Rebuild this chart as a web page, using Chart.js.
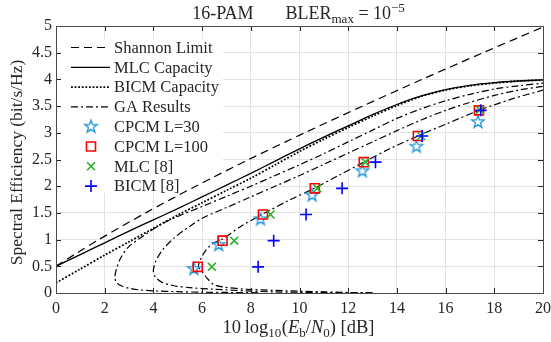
<!DOCTYPE html>
<html>
<head>
<meta charset="utf-8">
<script src="https://cdn.jsdelivr.net/npm/chart.js@4.4.1/dist/chart.umd.min.js"></script>
<style>
html, body { margin: 0; padding: 0; background: #fff; }
#myChart { display: block; }
</style>
</head>
<body>
<canvas id="myChart" width="551" height="342"></canvas>
<script>
"use strict";

// --- values ---
const shannonX = [0, 0.86, 1.76, 3.68, 5.74, 7.92, 10.21, 12.59, 15.03, 17.54, 20];
const shannonY = [0.5, 0.75, 1.0, 1.5, 2.0, 2.5, 3.0, 3.5, 4.0, 4.5, 4.98];

const capX = [0, 1, 2, 3, 4, 5, 6, 7, 8, 9, 10, 11, 12, 13, 14, 15, 16, 17, 18, 19, 20];
const mlcCapY = [0.5, 0.72, 0.94, 1.16, 1.37, 1.58, 1.8, 2.02, 2.24, 2.47, 2.7, 2.92, 3.13, 3.34, 3.53, 3.69, 3.81, 3.89, 3.94, 3.97, 3.99];
const bicmCapY = [0.19, 0.45, 0.71, 0.96, 1.21, 1.46, 1.69, 1.92, 2.15, 2.4, 2.65, 2.88, 3.1, 3.31, 3.51, 3.68, 3.8, 3.88, 3.93, 3.97, 3.99];

// GA results: three curves, each folds back at low rate
const ga1X = [8.3, 7, 6, 5, 4, 3.4, 3.0, 2.7, 2.5, 2.42, 2.48, 2.65, 2.95, 3.55, 4.5, 6, 7, 8, 9, 10, 11, 12, 13, 14, 15, 16, 17, 18, 19, 20];
const ga1Y = [0.005, 0.01, 0.015, 0.025, 0.04, 0.06, 0.09, 0.13, 0.19, 0.28, 0.45, 0.65, 0.85, 1.06, 1.33, 1.62, 1.81, 2.0, 2.2, 2.4, 2.61, 2.83, 3.05, 3.27, 3.45, 3.6, 3.72, 3.82, 3.88, 3.93];

const ga2X = [13, 11, 9, 7.8, 6.5, 5.5, 4.8, 4.35, 4.08, 4.0, 4.1, 4.4, 4.9, 5.5, 6, 7, 8, 9, 10, 11, 12, 13, 14, 15, 16, 17, 18, 19, 20];
const ga2Y = [0.005, 0.01, 0.02, 0.04, 0.07, 0.1, 0.14, 0.2, 0.3, 0.42, 0.6, 0.82, 1.05, 1.25, 1.4, 1.6, 1.8, 2.0, 2.2, 2.41, 2.62, 2.83, 3.04, 3.24, 3.42, 3.57, 3.7, 3.8, 3.87];

const ga3X = [13, 11, 9.5, 7.85, 6.9, 6.48, 6.2, 6.0, 5.85, 5.95, 6.15, 6.45, 6.84, 7.6, 8.5, 9.5, 10.6, 11.6, 12.64, 13.7, 14.86, 16.1, 17.37, 18.7, 20];
const ga3Y = [0.0, 0.02, 0.04, 0.07, 0.11, 0.16, 0.28, 0.4, 0.5, 0.64, 0.8, 0.93, 1.01, 1.25, 1.48, 1.72, 1.96, 2.2, 2.45, 2.7, 2.94, 3.18, 3.42, 3.63, 3.8];

const cpcm30X = [5.66, 6.68, 8.4, 10.52, 12.58, 14.8, 17.33];
const cpcm30Y = [0.45, 0.9, 1.38, 1.83, 2.28, 2.74, 3.2];
const cpcm100X = [5.82, 6.84, 8.5, 10.63, 12.64, 14.86, 17.37];
const cpcm100Y = [0.49, 0.98, 1.47, 1.96, 2.45, 2.94, 3.42];
const mlc8X = [6.4, 7.32, 8.81, 10.73, 12.71, 15.0, 17.41];
const mlc8Y = [0.49, 0.98, 1.47, 1.96, 2.45, 2.94, 3.43];
const bicm8X = [8.3, 8.94, 10.27, 11.75, 13.12, 15.04, 17.44];
const bicm8Y = [0.49, 0.98, 1.47, 1.96, 2.45, 2.94, 3.42];

const xTicks = [0, 2, 4, 6, 8, 10, 12, 14, 16, 18, 20];
const yTicks = [0, 0.5, 1, 1.5, 2, 2.5, 3, 3.5, 4, 4.5, 5];

// --- styling ---
const serif = '"Liberation Serif", "Times New Roman", serif';
const ink = '#262626';
const starBlue = '#1f97d8';
const sqRed = '#ff0000';
const xGreen = '#22b022';
const plusBlue = '#0000ff';

const dashShannon = [8, 5];
const dashDot = [7, 3, 2, 3];
const dotted = [1.8, 1.8];

const toPts = (xs, ys) => xs.map((x, i) => ({ x: x, y: ys[i] }));

// pentagram marker (Chart.js 'star' is an asterisk)
function makeStar(r, color) {
    const c = document.createElement('canvas');
    const s = Math.ceil(r * 2 + 4);
    c.width = s; c.height = s;
    const g = c.getContext('2d');
    g.strokeStyle = color;
    g.lineWidth = 1.3;
    g.lineJoin = 'miter';
    g.beginPath();
    for (let i = 0; i < 10; i++) {
        const rad = (i % 2 === 0) ? r : r * 0.4;
        const a = -Math.PI / 2 + i * Math.PI / 5;
        const px = s / 2 + rad * Math.cos(a), py = s / 2 + rad * Math.sin(a);
        if (i === 0) g.moveTo(px, py); else g.lineTo(px, py);
    }
    g.closePath();
    g.stroke();
    return c;
}
const starImg = makeStar(6.6, starBlue);

function lineSet(label, xs, ys, dash, width, order) {
    return {
        label: label, data: toPts(xs, ys), showLine: true,
        borderColor: '#000', backgroundColor: '#000', borderWidth: width, borderDash: dash,
        pointRadius: 0, pointHoverRadius: 0, fill: false, tension: 0.3, order: order
    };
}

const markerSets = [
    { label: 'CPCM L=30', data: toPts(cpcm30X, cpcm30Y), pointStyle: starImg, pointRadius: 7,
      borderColor: starBlue, backgroundColor: 'rgba(0,0,0,0)', showLine: false, order: 4 },
    { label: 'CPCM L=100', data: toPts(cpcm100X, cpcm100Y), pointStyle: 'rect', pointRadius: 6.4,
      borderColor: sqRed, backgroundColor: 'rgba(0,0,0,0)', pointBorderWidth: 1.6, showLine: false, order: 3 },
    { label: 'MLC [8]', data: toPts(mlc8X, mlc8Y), pointStyle: 'crossRot', pointRadius: 5.6,
      borderColor: xGreen, backgroundColor: xGreen, pointBorderWidth: 1.5, showLine: false, order: 2 },
    { label: 'BICM [8]', data: toPts(bicm8X, bicm8Y), pointStyle: 'cross', pointRadius: 6,
      borderColor: plusBlue, backgroundColor: plusBlue, pointBorderWidth: 1.6, showLine: false, order: 1 }
];

const datasets = [
    lineSet('Shannon Limit', shannonX, shannonY, dashShannon, 1.2, 10),
    lineSet('MLC Capacity', capX, mlcCapY, [], 1.3, 9),
    lineSet('BICM Capacity', capX, bicmCapY, dotted, 1.8, 8),
    lineSet('GA Results', ga1X, ga1Y, dashDot, 1.2, 7),
    lineSet('GA Results', ga2X, ga2Y, dashDot, 1.2, 6),
    lineSet('GA Results', ga3X, ga3Y, dashDot, 1.2, 5)
].concat(markerSets);

// legend layout (inside the axes, white background)
const legendBox = { x: 57, y: 39, w: 166, h: 154 };
const legendItems = [
    { text: 'Shannon Limit', kind: 'line', dash: dashShannon, width: 1.2 },
    { text: 'MLC Capacity', kind: 'line', dash: [], width: 1.3 },
    { text: 'BICM Capacity', kind: 'line', dash: dotted, width: 1.8 },
    { text: 'GA Results', kind: 'line', dash: dashDot, width: 1.2 },
    { text: 'CPCM L=30', kind: 'mark', ds: markerSets[0] },
    { text: 'CPCM L=100', kind: 'mark', ds: markerSets[1] },
    { text: 'MLC [8]', kind: 'mark', ds: markerSets[2] },
    { text: 'BICM [8]', kind: 'mark', ds: markerSets[3] }
];

function drawRich(ctx, parts, cx, baseY) {
    let total = 0;
    parts.forEach(p => {
        ctx.font = (p.italic ? 'italic ' : '') + p.size + 'px ' + serif;
        p.w = ctx.measureText(p.t).width;
        total += p.w + (p.gap || 0);
    });
    let x = cx - total / 2;
    ctx.textAlign = 'left';
    ctx.textBaseline = 'alphabetic';
    parts.forEach(p => {
        ctx.font = (p.italic ? 'italic ' : '') + p.size + 'px ' + serif;
        ctx.fillText(p.t, x, baseY + (p.dy || 0));
        x += p.w + (p.gap || 0);
    });
}

const framePlugin = {
    id: 'frame',
    beforeDatasetsDraw(chart) {
        const ctx = chart.ctx;
        ctx.save();
        ctx.fillStyle = '#fff';
        ctx.fillRect(legendBox.x, legendBox.y, legendBox.w, legendBox.h);
        ctx.restore();
    },
    afterDatasetsDraw(chart) {
        const ctx = chart.ctx, a = chart.chartArea;
        const sx = chart.scales.x, sy = chart.scales.y;
        const tl = 5;
        ctx.save();
        ctx.strokeStyle = ink;
        ctx.lineWidth = 1;
        ctx.setLineDash([]);
        ctx.beginPath();
        xTicks.forEach(v => {
            const px = Math.round(sx.getPixelForValue(v)) + 0.5;
            ctx.moveTo(px, a.bottom); ctx.lineTo(px, a.bottom - tl);
            ctx.moveTo(px, a.top); ctx.lineTo(px, a.top + tl);
        });
        yTicks.forEach(v => {
            const py = Math.round(sy.getPixelForValue(v)) + 0.5;
            ctx.moveTo(a.left, py); ctx.lineTo(a.left + tl, py);
            ctx.moveTo(a.right, py); ctx.lineTo(a.right - tl, py);
        });
        ctx.stroke();
        ctx.strokeStyle = '#4a4a4a';
        ctx.strokeRect(Math.round(a.left) + 0.5, Math.round(a.top) + 0.5,
            Math.round(a.right - a.left), Math.round(a.bottom - a.top));
        ctx.restore();
    },
    afterDraw(chart) {
        const ctx = chart.ctx, a = chart.chartArea;
        ctx.save();
        ctx.fillStyle = ink;

        // legend
        const x0 = 71, x1 = 110, tx = 114;
        legendItems.forEach((it, i) => {
            const y = 47.5 + i * 19.8;
            if (it.kind === 'line') {
                ctx.strokeStyle = '#000';
                ctx.lineWidth = it.width;
                ctx.setLineDash(it.dash);
                ctx.beginPath();
                ctx.moveTo(x0, y); ctx.lineTo(x1, y);
                ctx.stroke();
                ctx.setLineDash([]);
            } else {
                const ds = it.ds;
                ctx.strokeStyle = ds.borderColor;
                ctx.fillStyle = ds.backgroundColor;
                ctx.lineWidth = ds.pointBorderWidth || 1.3;
                Chart.helpers.drawPoint(ctx, { pointStyle: ds.pointStyle, radius: ds.pointRadius, rotation: 0, borderWidth: ctx.lineWidth }, 91, y);
            }
            ctx.fillStyle = ink;
            ctx.font = '16.5px ' + serif;
            ctx.textAlign = 'left';
            ctx.textBaseline = 'middle';
            ctx.fillText(it.text, tx, y + 1);
        });

        // title
        ctx.fillStyle = ink;
        drawRich(ctx, [
            { t: '16-PAM', size: 18, gap: 32 },
            { t: 'BLER', size: 18 },
            { t: 'max', size: 13, dy: 4 },
            { t: ' = 10', size: 18 },
            { t: '\u22125', size: 13, dy: -7 }
        ], 298.5, 19);

        // x-axis title
        drawRich(ctx, [
            { t: '10\u2009log', size: 18.5 },
            { t: '10', size: 13, dy: 4, gap: 0.5 },
            { t: '(', size: 18.5 },
            { t: 'E', size: 18.5, italic: true },
            { t: 'b', size: 13, dy: 4 },
            { t: '/', size: 18.5 },
            { t: 'N', size: 18.5, italic: true },
            { t: '0', size: 13, dy: 4 },
            { t: ') [dB]', size: 18.5 }
        ], 298.5, 333);

        // y-axis title
        ctx.translate(17, (a.top + a.bottom) / 2 + 3);
        ctx.rotate(-Math.PI / 2);
        ctx.font = '17.5px ' + serif;
        ctx.textAlign = 'center';
        ctx.textBaseline = 'middle';
        ctx.fillText('Spectral Efficiency (bit/s/Hz)', 0, 0);
        ctx.restore();
    }
};

const tickFont = { family: serif, size: 16 };

const ctx = document.getElementById('myChart');
const myChart = new Chart(ctx, {
    type: 'scatter',
    data: { datasets: datasets },
    options: {
        responsive: false,
        animation: false,
        devicePixelRatio: 1,
        layout: { padding: { left: 0, right: 2, top: 26, bottom: 0 } },
        plugins: {
            legend: { display: false },
            tooltip: { enabled: false },
            title: { display: false }
        },
        scales: {
            x: {
                type: 'linear', min: 0, max: 20,
                ticks: { stepSize: 2, padding: 6, font: tickFont, color: ink, maxRotation: 0 },
                grid: { color: '#e3e3e3', drawTicks: false },
                border: { display: false },
                afterFit: s => { s.height = 49; s.paddingRight = 0; }
            },
            y: {
                type: 'linear', min: 0, max: 5,
                ticks: { stepSize: 0.5, padding: 4, font: tickFont, color: ink,
                         callback: v => String(Number(v.toFixed(2))) },
                grid: { color: '#e3e3e3', drawTicks: false },
                border: { display: false },
                afterFit: s => { s.width = 56; }
            }
        }
    },
    plugins: [framePlugin]
});
</script>
</body>
</html>
